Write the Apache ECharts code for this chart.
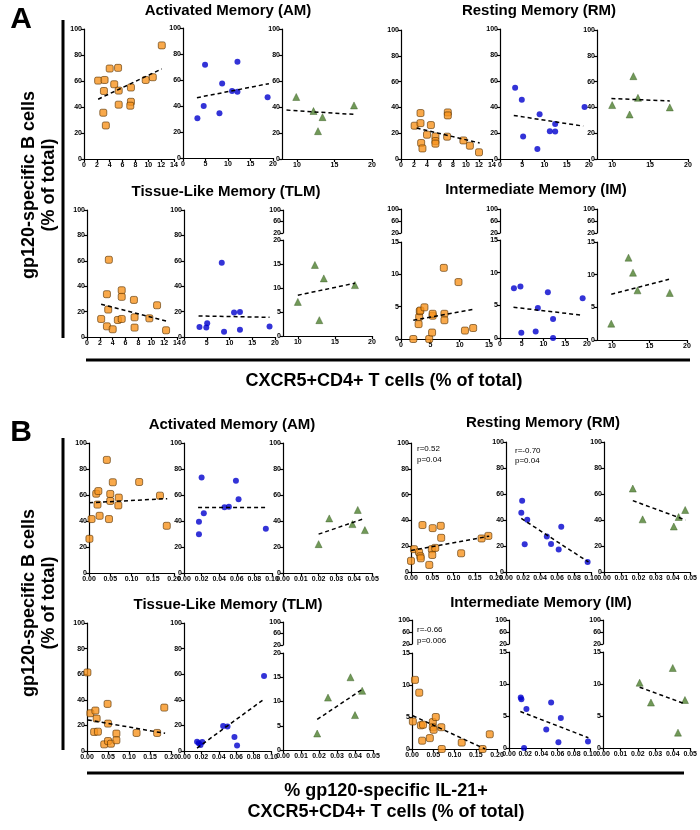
<!DOCTYPE html>
<html lang="en">
<head>
  <meta charset="utf-8">
  <title>gp120-specific B cells vs CXCR5+CD4+ T cells</title>
  <script type="text/javascript" src="https://fastly.jsdelivr.net/npm/echarts@6/dist/echarts.min.js"></script>
  <style type="text/css">
    * { margin: 0; padding: 0; }
    html, body { background: #fff; }
    #chart { width: 700px; height: 830px; }
  </style>
</head>
<body>
  <div id="chart"></div>
  <script type="text/javascript">
    // ---- panel A: x = CXCR5+CD4+ T cells (% of total) ----
    var aAmOrange = [[2.2,60.3],[3.2,60.8],[3.1,52.3],[3.0,35.6],[3.4,25.8],[4.0,69.6],[4.7,57.5],[5.3,70.1],[5.4,52.6],[5.4,41.8],[7.3,55],[7.3,44],[7.2,41],[9.6,60.8],[10.7,62.9],[12.1,87.4]];
    var aAmOrangeFit = [[2.2,46],[12.1,69.3]];
    var aAmBlue = [[3.2,30.5],[4.6,40],[4.9,71.8],[8.1,34.4],[8.7,57.4],[10.9,51.5],[12.1,51],[12.1,74],[18.8,46.7]];
    var aAmBlueFit = [[3.1,46.4],[19.1,57.2]];
    var aAmGreen = [[9.9,47.7],[12.2,36.9],[12.8,21.4],[13.4,32.2],[17.6,41.2]];
    var aAmGreenFit = [[8.6,37.6],[17.6,34.3]];

    var aRmOrange = [[2.1,25.8],[3.0,35.6],[3.0,27.8],[3.1,12.4],[3.3,8.2],[4.0,18.8],[4.6,26.3],[5.3,17.5],[5.3,13.9],[5.3,11.9],[7.2,36.1],[7.2,33.8],[7.1,17.3],[9.6,14.4],[10.6,10.3],[12.0,5.2]];
    var aRmOrangeFit = [[2.4,24],[12.1,12.4]];
    var aRmBlue = [[3.4,54.9],[4.9,45.6],[5.2,17.3],[8.4,7.7],[8.9,34.5],[11.2,21.4],[12.4,27],[12.4,21.1],[19.0,40]];
    var aRmBlueFit = [[3.1,33.5],[18.7,25.3]];
    var aRmGreen = [[10,41.8],[12.3,34.5],[12.8,64.2],[13.4,47.4],[17.6,40]];
    var aRmGreenFit = [[9.9,46.9],[17.6,45]];

    var aTlmOrange = [[2.2,14.2],[3.1,33.7],[3.1,8.4],[3.3,21.6],[3.4,60.8],[4.0,6.1],[4.8,13.4],[5.4,36.8],[5.4,31.6],[5.4,14.2],[7.3,29.2],[7.4,15.5],[7.4,7.4],[9.7,14.7],[10.9,25],[12.3,5.3]];
    var aTlmOrangeFit = [[2.2,25.8],[12.3,12.6]];
    var aTlmBlue = [[3.4,7.9],[4.9,7.4],[5.1,10.8],[8.3,58.4],[8.8,4.2],[11,19.2],[12.3,19.7],[12.3,5.8],[18.8,8.2]];
    var aTlmBlueFit = [[3.2,16.6],[18.8,15.5]];
    var aTlmGreen = [[10,7.1],[12.3,14.8],[12.9,3.3],[13.5,12],[17.7,10.6]];
    var aTlmGreenFit = [[10,8.5],[17.7,11.0]];

    var aImOrange = [[2.1,0],[3.0,2.3],[3.1,3.4],[3.2,4.3],[3.3,4.4],[4.0,4.9],[4.8,0],[5.3,1.0],[5.4,3.6],[5.4,3.9],[7.3,11.0],[7.4,3.9],[7.4,2.9],[9.8,8.8],[10.9,1.3],[12.3,1.7]];
    var aImOrangeFit = [[2.1,2.9],[12.4,4.6]];
    var aImBlue = [[3.2,7.6],[4.7,7.9],[4.9,0.8],[8.2,1.0],[8.7,4.6],[11,7.0],[12.2,2.9],[12.2,0],[19,6.1]];
    var aImBlueFit = [[3.1,4.7],[18.8,3.5]];
    var aImGreen = [[9.9,2.5],[12.2,12.6],[12.8,10.3],[13.4,7.6],[17.7,7.2]];
    var aImGreenFit = [[9.9,7.0],[17.6,9.3]];

    // ---- panel B: x = % gp120-specific IL-21+ CXCR5+CD4+ T cells ----
    var bAmOrange = [[0.001,26.3],[0.006,41.5],[0.017,61],[0.020,52.6],[0.022,63],[0.025,44],[0.042,87],[0.047,41.5],[0.050,60.8],[0.050,55.4],[0.056,69.8],[0.069,52],[0.070,58],[0.118,70],[0.167,59.5],[0.183,36.3]];
    var bAmOrangeFit = [[0,54],[0.184,57.2]];
    var bAmBlue = [[0.017,39.4],[0.017,29.9],[0.020,73.5],[0.0225,45.9],[0.046,50.5],[0.051,51],[0.059,71],[0.062,56.7],[0.093,34]];
    var bAmBlueFit = [[0.016,50.3],[0.094,50.3]];
    var bAmGreen = [[0.020,22.2],[0.026,42],[0.039,37.6],[0.042,48.5],[0.046,33]];
    var bAmGreenFit = [[0.020,29.9],[0.046,42]];

    var bRmOrange = [[0.0,8.6],[0.007,17.7],[0.019,15.3],[0.022,12.2],[0.023,10.6],[0.027,36.4],[0.043,5.5],[0.049,17.7],[0.050,13.2],[0.051,34],[0.057,18.7],[0.070,35.8],[0.071,26.5],[0.118,14.5],[0.166,26],[0.182,28]];
    var bRmOrangeFit = [[0,16.6],[0.184,27.8]];
    var bRmBlue = [[0.019,54.9],[0.018,45.6],[0.022,21.4],[0.025,40.2],[0.048,27.3],[0.053,21.6],[0.062,17.3],[0.065,34.8],[0.096,7.7]];
    var bRmBlueFit = [[0.018,41.2],[0.097,7.7]];
    var bRmGreen = [[0.0167,64.2],[0.0224,40.5],[0.0405,35],[0.0433,42.3],[0.0471,47.7]];
    var bRmGreenFit = [[0.0167,54.9],[0.0473,40]];

    var bTlmOrange = [[0.001,61.4],[0.008,29.5],[0.017,14.9],[0.020,31.6],[0.023,25.3],[0.026,15.1],[0.041,5.2],[0.049,36.8],[0.050,21.4],[0.050,7.8],[0.057,5.7],[0.070,13.6],[0.070,8.4],[0.118,14.1],[0.167,14.1],[0.184,33.9]];
    var bTlmOrangeFit = [[0.002,24.3],[0.186,13.8]];
    var bTlmBlue = [[0.015,7.3],[0.017,6.0],[0.019,4.7],[0.021,7.0],[0.045,19.6],[0.050,19.1],[0.058,11],[0.061,4.2],[0.092,58.5]];
    var bTlmBlueFit = [[0.015,2.3],[0.092,40.5]];
    var bTlmGreen = [[0.019,3.4],[0.025,10.8],[0.0375,15],[0.040,7.2],[0.044,12.2]];
    var bTlmGreenFit = [[0.019,6.3],[0.0436,12.4]];

    var bImOrange = [[0.002,4.3],[0.007,10.8],[0.017,8.8],[0.021,3.7],[0.024,1.3],[0.026,3.8],[0.042,1.7],[0.049,4.2],[0.049,3.4],[0.051,3.0],[0.056,5.0],[0.069,3.4],[0.070,0],[0.117,1.0],[0.166,0],[0.183,2.3]];
    var bImOrangeFit = [[0.002,5.2],[0.172,0]];
    var bImBlue = [[0.0145,7.9],[0.0153,7.6],[0.0186,0],[0.0215,6.1],[0.046,2.9],[0.052,7.1],[0.061,0.9],[0.064,4.7],[0.0975,1.0]];
    var bImBlueFit = [[0.014,5.7],[0.098,1.6]];
    var bImGreen = [[0.021,10.2],[0.0275,7.1],[0.040,12.5],[0.043,2.4],[0.047,7.5]];
    var bImGreenFit = [[0.021,9.5],[0.047,6.9]];

    var stats = [['r=0.52', 'p=0.04'], ['r=-0.70', 'p=0.04'], ['r=-0.66', 'p=0.006']];

    // ---- styling ----
    var tickFont = 'Liberation Sans Narrow, Liberation Sans, Arial, sans-serif';
    var headFont = 'Liberation Sans, Arial, sans-serif';
    var marks = {
      o: { symbol: 'roundRect', symbolSize: 7, itemStyle: { color: '#F7931E', borderColor: '#5a3200', borderWidth: 0.8 } },
      b: { symbol: 'circle', symbolSize: 6, itemStyle: { color: '#0000CD' } },
      g: { symbol: 'triangle', symbolSize: 7, itemStyle: { color: '#4E7F2E', borderColor: '#2f5519', borderWidth: 0.5 } }
    };
    // x-axis kinds
    var xKinds = {
      a14: { min: 0, max: 14, interval: 2 },
      a20: { min: 0, max: 20, interval: 5 },
      a15: { min: 0, max: 15, interval: 5 },
      a8:  { min: 8, max: 20, custom: [10, 15, 20] },
      b20: { min: 0, max: 0.2, interval: 0.05, dec: 2 },
      b10: { min: 0, max: 0.1, interval: 0.02, dec: 2 },
      b05: { min: 0, max: 0.05, interval: 0.01, dec: 2 }
    };

    var grids = [], xAxes = [], yAxes = [], series = [];

    function lineStyle() { return { color: '#000', width: 1.2 }; }
    function labelStyle(extra) {
      var s = { color: '#000', fontSize: 7, fontWeight: 'bold', fontFamily: tickFont, margin: 2 };
      for (var k in extra) s[k] = extra[k];
      return s;
    }
    function addGrid(l, t, r, b) {
      grids.push({ left: l, top: t, width: r - l, height: b - t });
      return grids.length - 1;
    }
    function makeX(gi, kind, hidden) {
      var k = xKinds[kind];
      var ax = {
        type: 'value', gridIndex: gi, min: k.min, max: k.max, show: !hidden,
        splitLine: { show: false },
        axisLine: { show: true, onZero: false, lineStyle: lineStyle() },
        axisTick: { show: true, length: 3, lineStyle: lineStyle() },
        axisLabel: labelStyle({
          margin: 3,
          formatter: function (v) { return k.dec ? v.toFixed(k.dec) : String(Math.round(v)); }
        })
      };
      if (k.custom) {
        ax.axisTick.customValues = k.custom;
        ax.axisLabel.customValues = k.custom;
      } else {
        ax.interval = k.interval;
      }
      xAxes.push(ax);
      return xAxes.length - 1;
    }
    function makeY(gi, min, max, interval, custom) {
      var ax = {
        type: 'value', gridIndex: gi, min: min, max: max,
        splitLine: { show: false },
        axisLine: { show: true, onZero: false, lineStyle: lineStyle() },
        axisTick: { show: true, length: 3, lineStyle: lineStyle() },
        axisLabel: labelStyle({})
      };
      if (custom) {
        ax.axisTick.customValues = custom;
        ax.axisLabel.customValues = custom;
      } else {
        ax.interval = interval;
      }
      yAxes.push(ax);
      return yAxes.length - 1;
    }

    // kind, points, fit, x kind, box [l,t,r,b], y max, broken top segment [top,bottom] or none
    function addPlot(kind, pts, fit, xk, box, yMax, brk) {
      if (brk) {
        var ti = addGrid(box[0], brk[0], box[2], brk[1]);
        var txi = makeX(ti, xk, true);
        var tyi = makeY(ti, 20, 100, null, [20, 60, 100]);
        series.push({ type: 'scatter', xAxisIndex: txi, yAxisIndex: tyi, data: [], silent: true });
      }
      var gi = addGrid(box[0], box[1], box[2], box[3]);
      var xi = makeX(gi, xk, false);
      var yi = makeY(gi, 0, yMax, yMax === 100 ? 20 : 5);
      var m = marks[kind];
      series.push({
        type: 'line', xAxisIndex: xi, yAxisIndex: yi, data: fit, symbol: 'none', silent: true,
        lineStyle: { color: '#000', width: 1.5, type: [4, 3] }, z: 3
      });
      series.push({
        type: 'scatter', xAxisIndex: xi, yAxisIndex: yi, data: pts, silent: true,
        symbol: m.symbol, symbolSize: m.symbolSize, itemStyle: m.itemStyle, z: 2
      });
    }

    // panel A, row 1
    addPlot('o', aAmOrange, aAmOrangeFit, 'a14', [84, 29, 174, 159], 100);
    addPlot('b', aAmBlue, aAmBlueFit, 'a20', [183, 28, 273, 158], 100);
    addPlot('g', aAmGreen, aAmGreenFit, 'a8', [282, 29, 372, 159], 100);
    addPlot('o', aRmOrange, aRmOrangeFit, 'a14', [401, 30, 492, 159], 100);
    addPlot('b', aRmBlue, aRmBlueFit, 'a20', [500, 29, 589, 159], 100);
    addPlot('g', aRmGreen, aRmGreenFit, 'a8', [597, 30, 688, 159], 100);
    // panel A, row 2
    addPlot('o', aTlmOrange, aTlmOrangeFit, 'a14', [87, 210, 177, 337], 100);
    addPlot('b', aTlmBlue, aTlmBlueFit, 'a20', [184, 210, 275, 337], 100);
    addPlot('g', aTlmGreen, aTlmGreenFit, 'a8', [283, 240, 372, 336], 20, [210, 233]);
    addPlot('o', aImOrange, aImOrangeFit, 'a15', [401, 242, 489, 339], 15, [209, 233]);
    addPlot('b', aImBlue, aImBlueFit, 'a20', [500, 240, 587, 338], 15, [209, 233]);
    addPlot('g', aImGreen, aImGreenFit, 'a8', [597, 242, 687, 340], 15, [209, 233]);
    // panel B, row 1
    addPlot('o', bAmOrange, bAmOrangeFit, 'b20', [89, 443, 174, 573], 100);
    addPlot('b', bAmBlue, bAmBlueFit, 'b10', [184, 443, 272, 573], 100);
    addPlot('g', bAmGreen, bAmGreenFit, 'b05', [283, 443, 372, 573], 100);
    addPlot('o', bRmOrange, bRmOrangeFit, 'b20', [411, 443, 496, 572], 100);
    addPlot('b', bRmBlue, bRmBlueFit, 'b10', [506, 442, 591, 572], 100);
    addPlot('g', bRmGreen, bRmGreenFit, 'b05', [604, 442, 692, 572], 100);
    // panel B, row 2
    addPlot('o', bTlmOrange, bTlmOrangeFit, 'b20', [87, 623, 171, 751], 100);
    addPlot('b', bTlmBlue, bTlmBlueFit, 'b10', [184, 623, 271, 751], 100);
    addPlot('g', bTlmGreen, bTlmGreenFit, 'b05', [283, 653, 373, 750], 20, [622, 645]);
    addPlot('o', bImOrange, bImOrangeFit, 'b20', [412, 653, 497, 749], 15, [620, 644]);
    addPlot('b', bImBlue, bImBlueFit, 'b10', [509, 652, 590, 748], 15, [620, 644]);
    addPlot('g', bImGreen, bImGreenFit, 'b05', [603, 652, 692, 748], 15, [620, 644]);

    // ---- texts and frame lines ----
    function txt(s, x, y, font, extra) {
      var el = {
        type: 'text', x: x, y: y,
        style: { text: s, font: font, fill: '#000', align: 'center', verticalAlign: 'middle', textAlign: 'center', textVerticalAlign: 'middle' }
      };
      for (var k in extra) el[k] = extra[k];
      return el;
    }
    function leftTxt(s, x, y) {
      return {
        type: 'text', x: x, y: y,
        style: { text: s, font: '8px ' + tickFont, fill: '#000', align: 'left', verticalAlign: 'middle', textAlign: 'left', textVerticalAlign: 'middle' }
      };
    }
    function bar(x1, y1, x2, y2) {
      return { type: 'line', shape: { x1: x1, y1: y1, x2: x2, y2: y2 }, style: { stroke: '#000', lineWidth: 3 } };
    }
    var titleFont = 'bold 15px ' + headFont;
    var bigFont = 'bold 18px ' + headFont;
    var graphics = [
      txt('A', 21, 20, 'bold 30px ' + headFont),
      txt('B', 21, 433, 'bold 30px ' + headFont),
      txt('Activated Memory (AM)', 228, 11, titleFont),
      txt('Resting Memory (RM)', 539, 11, titleFont),
      txt('Tissue-Like Memory (TLM)', 226, 192, titleFont),
      txt('Intermediate Memory (IM)', 536, 190, titleFont),
      txt('Activated Memory (AM)', 232, 425, titleFont),
      txt('Resting Memory (RM)', 543, 423, titleFont),
      txt('Tissue-Like Memory (TLM)', 228, 605, titleFont),
      txt('Intermediate Memory (IM)', 541, 603, titleFont),
      txt('gp120-specific B cells', 29, 185, bigFont, { rotation: Math.PI / 2 }),
      txt('(% of total)', 49, 185, bigFont, { rotation: Math.PI / 2 }),
      txt('gp120-specific B cells', 29, 603, bigFont, { rotation: Math.PI / 2 }),
      txt('(% of total)', 49, 603, bigFont, { rotation: Math.PI / 2 }),
      txt('CXCR5+CD4+ T cells (% of total)', 384, 381, bigFont),
      txt('% gp120-specific IL-21+', 386, 791, bigFont),
      txt('CXCR5+CD4+ T cells (% of total)', 386, 812, bigFont),
      bar(63, 20, 63, 338), bar(86, 360, 690, 360),
      bar(63, 438, 63, 750), bar(87, 773, 684, 773),
      leftTxt(stats[0][0], 417, 449), leftTxt(stats[0][1], 417, 460),
      leftTxt(stats[1][0], 515, 451), leftTxt(stats[1][1], 515, 461),
      leftTxt(stats[2][0], 417, 630), leftTxt(stats[2][1], 417, 641)
    ];

    var chart = echarts.init(document.getElementById('chart'), null, { renderer: 'canvas' });
    chart.setOption({
      backgroundColor: '#fff',
      animation: false,
      grid: grids,
      xAxis: xAxes,
      yAxis: yAxes,
      series: series,
      graphic: graphics
    });
  </script>
</body>
</html>
